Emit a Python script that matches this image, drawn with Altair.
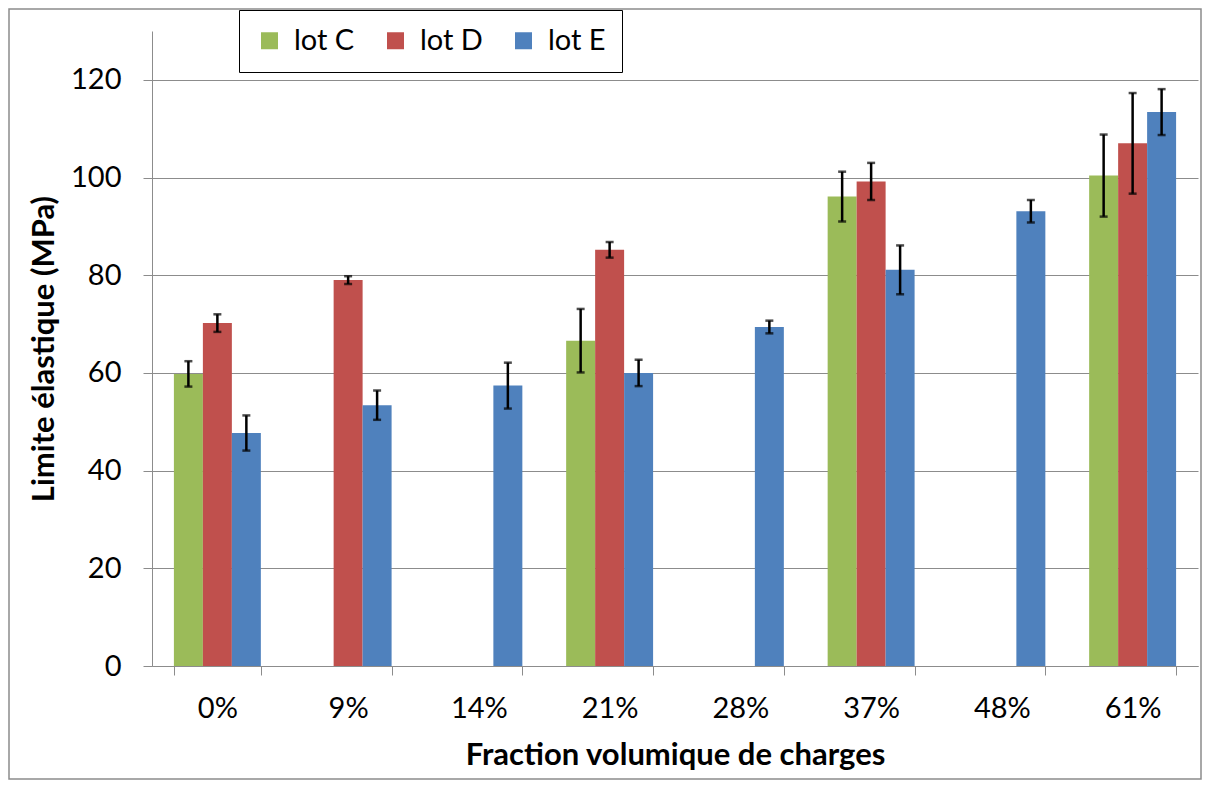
import altair as alt
import pandas as pd

categories = ["0%", "9%", "14%", "21%", "28%", "37%", "48%", "61%"]
lots = ["lot C", "lot D", "lot E"]
colors = ["#9BBB59", "#C0504D", "#4F81BD"]

lot_c = [59.8, None, None, 66.6, None, 96.1, None, 100.4]
lot_c_err = [2.6, None, None, 6.5, None, 5.1, None, 8.4]
lot_d = [70.2, 79.0, None, 85.2, None, 99.2, None, 107.0]
lot_d_err = [1.8, 0.8, None, 1.6, None, 3.8, None, 10.3]
lot_e = [47.7, 53.4, 57.4, 60.0, 69.4, 81.1, 93.1, 113.4]
lot_e_err = [3.6, 3.0, 4.7, 2.7, 1.3, 5.0, 2.3, 4.7]

y_ticks = [0, 20, 40, 60, 80, 100, 120]

rows = []
for lot, vals, errs in zip(lots, [lot_c, lot_d, lot_e], [lot_c_err, lot_d_err, lot_e_err]):
    for cat, v, e in zip(categories, vals, errs):
        if v is None:
            continue
        rows.append({"cat": cat, "lot": lot, "val": v, "lo": v - e, "hi": v + e})
df = pd.DataFrame(rows)

FONT = "Lato"
GRID = "#8c8c8c"

x_enc = alt.X(
    "cat:N",
    sort=categories,
    scale=alt.Scale(paddingInner=0.335, paddingOuter=0.1675),
    axis=alt.Axis(
        title="Fraction volumique de charges",
        labelAngle=0,
        tickBand="extent",
        grid=False,
        domainColor=GRID,
        tickColor=GRID,
        tickSize=9,
        labelFontSize=29,
        labelPadding=19,
        titleFontSize=31,
        titleFontWeight="bold",
        titlePadding=17,
    ),
)
xoff_enc = alt.XOffset("lot:N", scale=alt.Scale(domain=lots, paddingInner=0, paddingOuter=0))
y_scale = alt.Scale(domain=[0, 130], nice=False)

bars = alt.Chart(df).mark_bar().encode(
    x=x_enc,
    xOffset=xoff_enc,
    y=alt.Y(
        "val:Q",
        scale=y_scale,
        axis=alt.Axis(
            title="Limite élastique (MPa)",
            values=y_ticks,
            grid=True,
            gridColor=GRID,
            domainColor=GRID,
            tickColor=GRID,
            tickSize=9,
            labelFontSize=29,
            labelPadding=22,
            titleFontSize=31,
            titleFontWeight="bold",
            titlePadding=10,
        ),
    ),
    color=alt.Color(
        "lot:N",
        scale=alt.Scale(domain=lots, range=colors),
        legend=alt.Legend(
            title=None,
            orient="none",
            legendX=87,
            legendY=-21,
            direction="horizontal",
            symbolType="square",
            symbolSize=289,
            symbolStrokeWidth=0,
            labelFontSize=29,
            labelOffset=10,
            columnPadding=26,
            padding=16,
            strokeColor="black",
            fillColor="white",
        ),
    ),
)

err = alt.Chart(df).mark_rule(color="black", strokeWidth=2.5).encode(
    x=alt.X("cat:N", sort=categories),
    xOffset=alt.XOffset("lot:N"),
    y=alt.Y("lo:Q"),
    y2="hi:Q",
)
cap_hi = alt.Chart(df).mark_tick(color="black", thickness=2.5, size=8).encode(
    x=alt.X("cat:N", sort=categories),
    xOffset=alt.XOffset("lot:N"),
    y=alt.Y("hi:Q"),
)
cap_lo = alt.Chart(df).mark_tick(color="black", thickness=2.5, size=8).encode(
    x=alt.X("cat:N", sort=categories),
    xOffset=alt.XOffset("lot:N"),
    y=alt.Y("lo:Q"),
)

border = alt.Chart(pd.DataFrame({"k": [0]})).mark_rect(
    fillOpacity=0, stroke="#8c8c8c", strokeWidth=1.5
).encode(
    x=alt.value(-143), x2=alt.value(1049), y=alt.value(-22), y2=alt.value(748)
)

chart = alt.layer(border, bars, err, cap_hi, cap_lo).properties(
    width=1046,
    height=635,
    padding={"left": 144, "top": 23, "right": 4, "bottom": 114},
    autosize=alt.AutoSizeParams(type="none"),
).configure(font=FONT).configure_axis(
    labelColor="black", titleColor="black", labelFont=FONT, titleFont=FONT
).configure_legend(labelFont=FONT, labelColor="black").configure_view(stroke=None)

chart.save("out.html", embed_options={"renderer": "svg", "actions": False})
